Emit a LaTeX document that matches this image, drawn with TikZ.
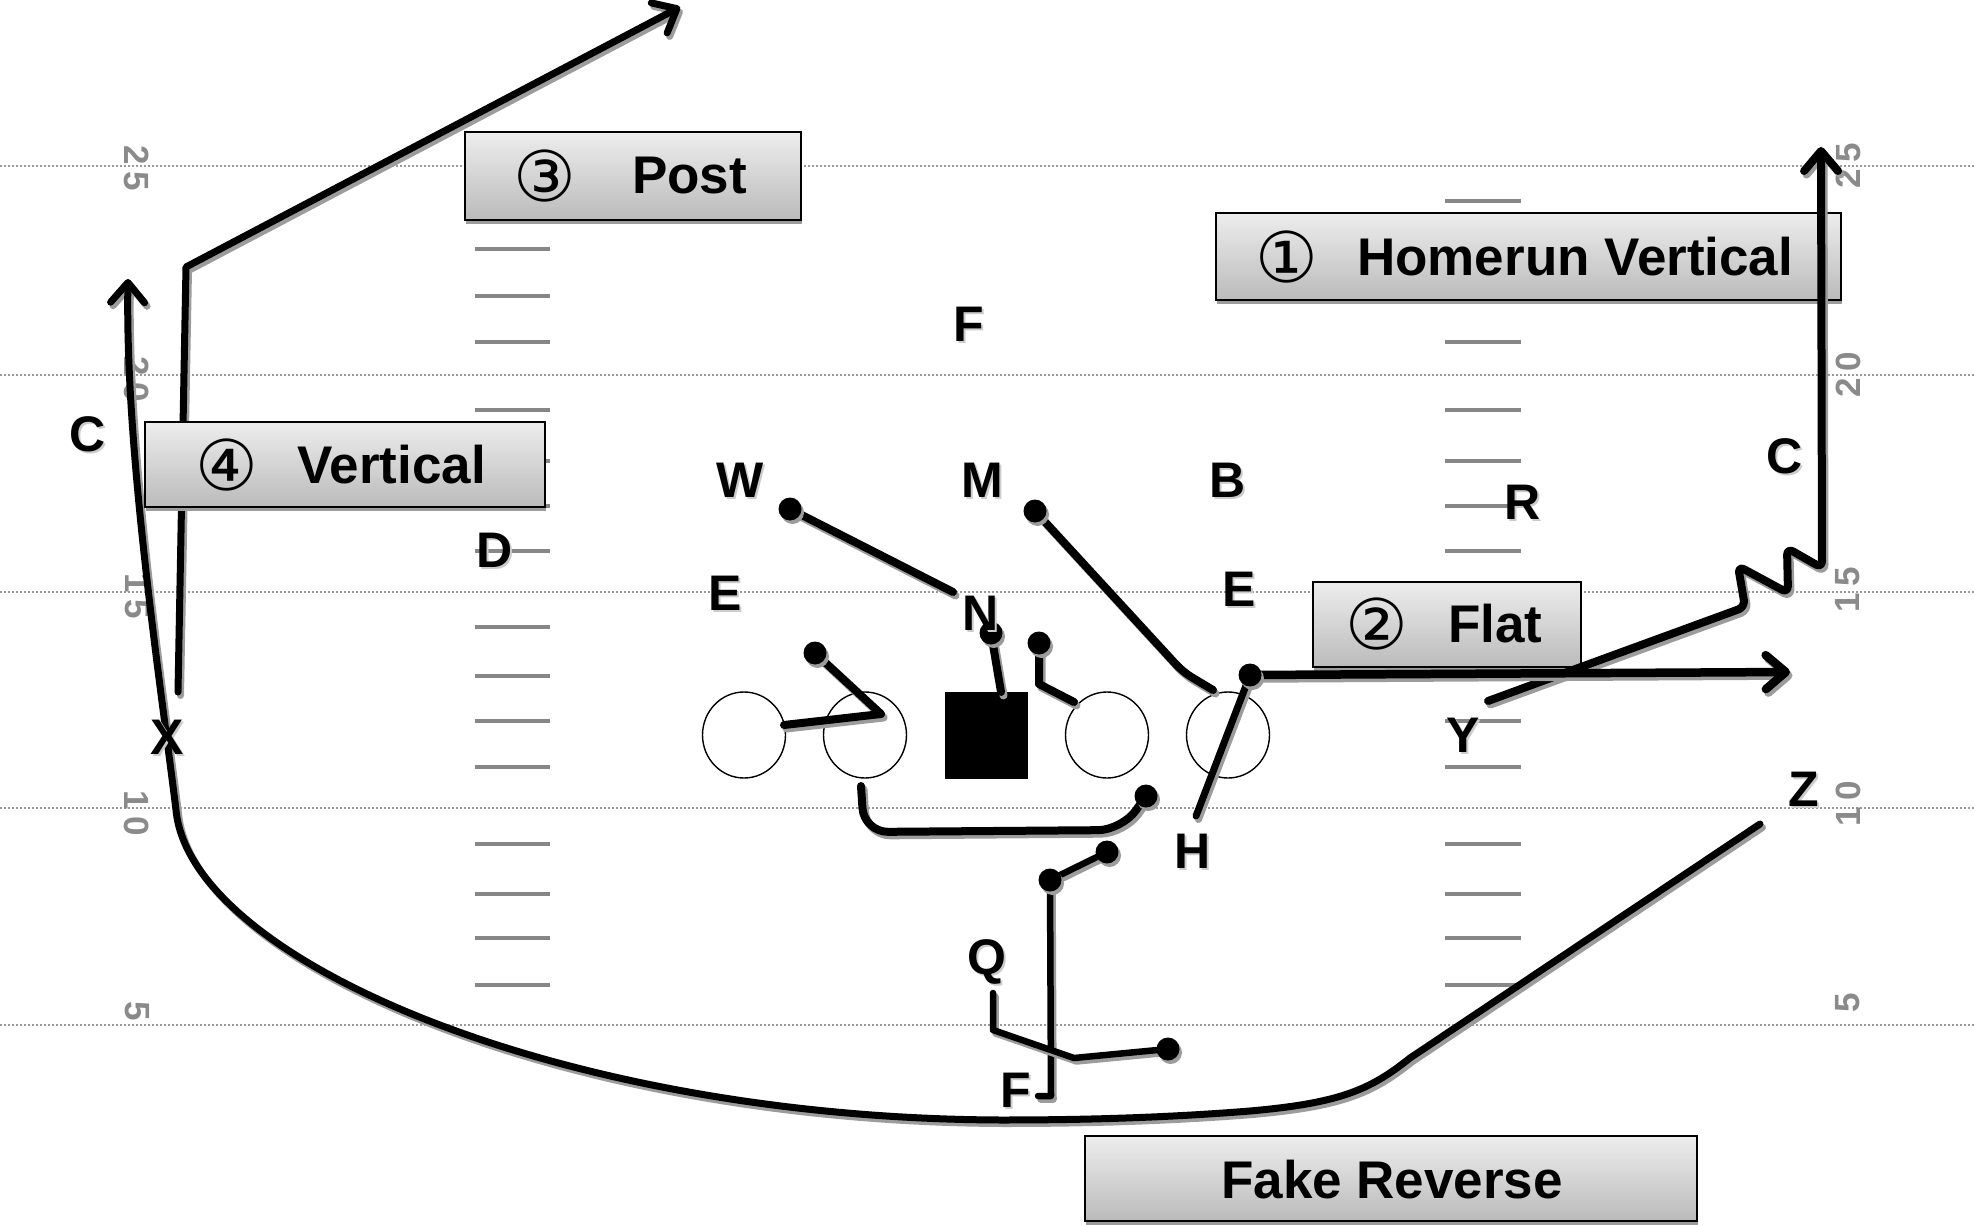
\documentclass[tikz,border=0pt]{standalone}
\usepackage{fontspec}
\setmainfont{Liberation Sans}
\newfontfamily\circfont{DejaVu Sans}
\usetikzlibrary{arrows.meta,shapes.geometric}
\definecolor{hashgray}{HTML}{878787}
\definecolor{numgray}{HTML}{8A8A8A}
\definecolor{yardgray}{HTML}{9A9A9A}
\definecolor{lineshadow}{HTML}{9C9C9C}
\definecolor{textshadow}{HTML}{CCCCCC}
\definecolor{boxtop}{HTML}{EDEDED}
\definecolor{boxbottom}{HTML}{BBBBBB}
% player letter with a soft offset copy underneath
\newcommand\playerlabel[4]{%
  \coordinate (#1pos) at (#2,#3);
  \node[playershadow] (#1shadow) at ([shift={(2,2)}]#1pos) {#4};
  \node[player] (#1) at (#1pos) {#4};}
\begin{document}
\begin{tikzpicture}[x=1pt,y=-1pt,
  yardline/.style={draw=yardgray, line width=1.5pt, dash pattern=on 1.5pt off 2.5pt},
  hashmark/.style={draw=hashgray, line width=4.5pt},
  yardnum/.style={text=numgray, inner sep=0pt, font=\fontsize{35}{35}\selectfont\bfseries},
  route/.style={line width=#1, line cap=round, line join=round,
    preaction={draw=lineshadow, line width=#1, line cap=round, line join=round,
      transform canvas={shift={(2.5pt,-3.5pt)}}}},
  route/.default=8pt,
  tip/.style={-{Straight Barb[length=20pt,width=34pt,round]}},
  dot/.style={circle, fill=black, inner sep=0pt, minimum size=23pt,
    preaction={fill=lineshadow, transform canvas={shift={(2.5pt,-3.5pt)}}}},
  lineman/.style={ellipse, draw=black, fill=white, line width=1.4pt,
    minimum width=83pt, minimum height=86pt, inner sep=0pt},
  centerman/.style={rectangle, fill=black, minimum width=83pt, minimum height=87pt, inner sep=0pt},
  player/.style={inner sep=0pt, font=\fontsize{50}{50}\selectfont\bfseries},
  playershadow/.style={player, text=textshadow},
  labelbox/.style={rectangle, draw=black, line width=2.2pt, top color=boxtop,
    bottom color=boxbottom, inner sep=0pt,
    preaction={fill=lineshadow, transform canvas={shift={(1pt,-4pt)}}}},
  boxtext/.style={anchor=west, inner sep=0pt, font=\fontsize{53}{53}\selectfont\bfseries},
  circnum/.style={inner sep=0pt, font=\circfont\fontsize{70}{70}\selectfont}
]
\fill[white] (0,0) rectangle (1974,1225);
\useasboundingbox (0,0) rectangle (1974,1225);

% ---------- field ----------
\foreach \y in {166,375,592,808,1025}
  \draw[yardline] (0,\y) -- (1974,\y);
\foreach \y in {201,249,296,342,410,461,506,551,627,676,721,767,844,894,938,985} {
  \draw[hashmark] (475,\y) -- (550,\y);
  \draw[hashmark] (1445,\y) -- (1521,\y);
}
\node[yardnum, rotate=-90] (nl25) at (137,168) {2\hspace{7pt}5};
\node[yardnum, rotate=-90] (nl20) at (137,379) {2\hspace{7pt}0};
\node[yardnum, rotate=-90] (nl15) at (137,596) {1\hspace{7pt}5};
\node[yardnum, rotate=-90] (nl10) at (137,813) {1\hspace{7pt}0};
\node[yardnum, rotate=-90] (nl5)  at (137,1011) {5};
\node[yardnum, rotate=90] (nr25) at (1848,166) {2\hspace{7pt}5};
\node[yardnum, rotate=90] (nr20) at (1848,375) {2\hspace{7pt}0};
\node[yardnum, rotate=90] (nr15) at (1848,590) {1\hspace{7pt}5};
\node[yardnum, rotate=90] (nr10) at (1848,804) {1\hspace{7pt}0};
\node[yardnum, rotate=90] (nr5)  at (1848,1003) {5};

% ---------- route labels ----------
\node[labelbox, minimum width=336pt, minimum height=88pt] (boxPost) at (633,176) {};
\node[circnum] (numPost) at (545,176) {③};
\node[boxtext] (txtPost) at (632,176) {Post};

\node[labelbox, minimum width=625pt, minimum height=87pt] (boxHome) at (1528.5,256.5) {};
\node[circnum] (numHome) at (1287,257) {①};
\node[boxtext] (txtHome) at (1357,257) {Homerun Vertical};

\node[labelbox, minimum width=268pt, minimum height=85pt] (boxFlat) at (1447,624.5) {};
\node[circnum] (numFlat) at (1377,624) {②};
\node[boxtext] (txtFlat) at (1448,624) {Flat};

\node[labelbox, minimum width=612pt, minimum height=85pt] (boxFake) at (1391,1178.5) {};
\node[boxtext] (txtFake) at (1221,1180) {Fake Reverse};

% ---------- line ----------
\node[lineman] (lt) at (744,735) {};
\node[lineman] (lg) at (865,735) {};
\node[centerman] (ctr) at (986,735) {};
\node[lineman] (rg) at (1107,735) {};
\node[lineman] (rt) at (1228,735) {};

% ---------- route points ----------
\coordinate (xStart) at (178,692);
\coordinate (xBreak) at (186,267);
\coordinate (postTip) at (680,7);
\coordinate (zStart) at (1760,824);
\coordinate (revTip) at (128,279);
\coordinate (yStart) at (1488,701);
\coordinate (homeTip) at (1821,147);
\coordinate (hStart) at (1196,816);
\coordinate (flatTip) at (1790,672);
\coordinate (pW) at (790,509);
\coordinate (pM) at (1035,511);
\coordinate (pN) at (991,633);
\coordinate (pRG) at (1039,643);
\coordinate (pLG) at (815,653);
\coordinate (pH) at (1250,675);
\coordinate (pPull) at (1146,796);
\coordinate (pF1) at (1107,852);
\coordinate (pF2) at (1050,880);
\coordinate (pQ) at (1168,1049);
\coordinate (pullStart) at (861,786);
\coordinate (fHook) at (1038,1096);
\coordinate (qStart) at (993,993);

% ---------- routes ----------
% post
\draw[route=7pt, tip] (xStart) -- (xBreak) -- (postTip);
% fake reverse sweep
\draw[route=7pt, tip] (zStart) -- (1410,1058)
  .. controls (1370,1090) and (1340,1103) .. (1250,1111)
  .. controls (1150,1119) and (1060,1120) .. (1000,1120)
  .. controls (560,1118) and (190,960) .. (176,810)
  .. controls (160,680) and (125,450) .. (revTip);
% homerun vertical with the double shake
\draw[route, tip, rounded corners=7pt] (yStart) -- (1745,607) -- (1738,566)
  -- (1788,593) -- (1787,548) -- (1822,568) -- (homeTip);
% flat
\draw[route=7pt] (hStart) -- (pH);
\draw[route=8.5pt, tip] (pH) -- (flatTip);
% blocking paths
\draw[route] (pW) -- (953,592);
\draw[route, rounded corners=10pt] (pM) -- (1183,672) -- (1213,690);
\draw[route] (pN) -- (1001,692);
\draw[route] (pRG) -- (1039,684) -- (1074,702);
\draw[route] (pLG) -- (881,714) -- (784,725);
\draw[route, rounded corners=24pt] (pullStart) -- (864,832) -- (1122,830) -- (pPull);
\draw[route=6.5pt] (fHook) -- (1051,1096) -- (pF2) -- (pF1);
\draw[route=6.5pt] (qStart) -- (993,1030) -- (1074,1058) -- (pQ);

% ---------- block points ----------
\foreach \p in {pW,pM,pN,pRG,pLG,pH,pPull,pF1,pF2,pQ}
  \node[dot] (\p dot) at (\p) {};

% label that sits over the post stem
\node[labelbox, minimum width=400pt, minimum height=85pt] (boxVert) at (345,464.5) {};
\node[circnum] (numVert) at (227,465) {④};
\node[boxtext] (txtVert) at (297,465) {Vertical};

% ---------- players ----------
\playerlabel{Fs}{969}{324}{F}
\playerlabel{W}{740}{480}{W}
\playerlabel{M}{982}{480}{M}
\playerlabel{B}{1228}{480}{B}
\playerlabel{R}{1523}{502}{R}
\playerlabel{Cr}{1785}{456}{C}
\playerlabel{Cl}{88}{434}{C}
\playerlabel{D}{495}{550}{D}
\playerlabel{El}{725}{593}{E}
\playerlabel{N}{981}{613}{N}
\playerlabel{Er}{1239}{589}{E}
\playerlabel{X}{167}{737}{X}
\playerlabel{Y}{1463}{735}{Y}
\playerlabel{Z}{1804}{789}{Z}
\playerlabel{H}{1193}{851}{H}
\playerlabel{Q}{987}{962}{Q}
\playerlabel{Fb}{1016}{1090}{F}
\end{tikzpicture}
\end{document}
